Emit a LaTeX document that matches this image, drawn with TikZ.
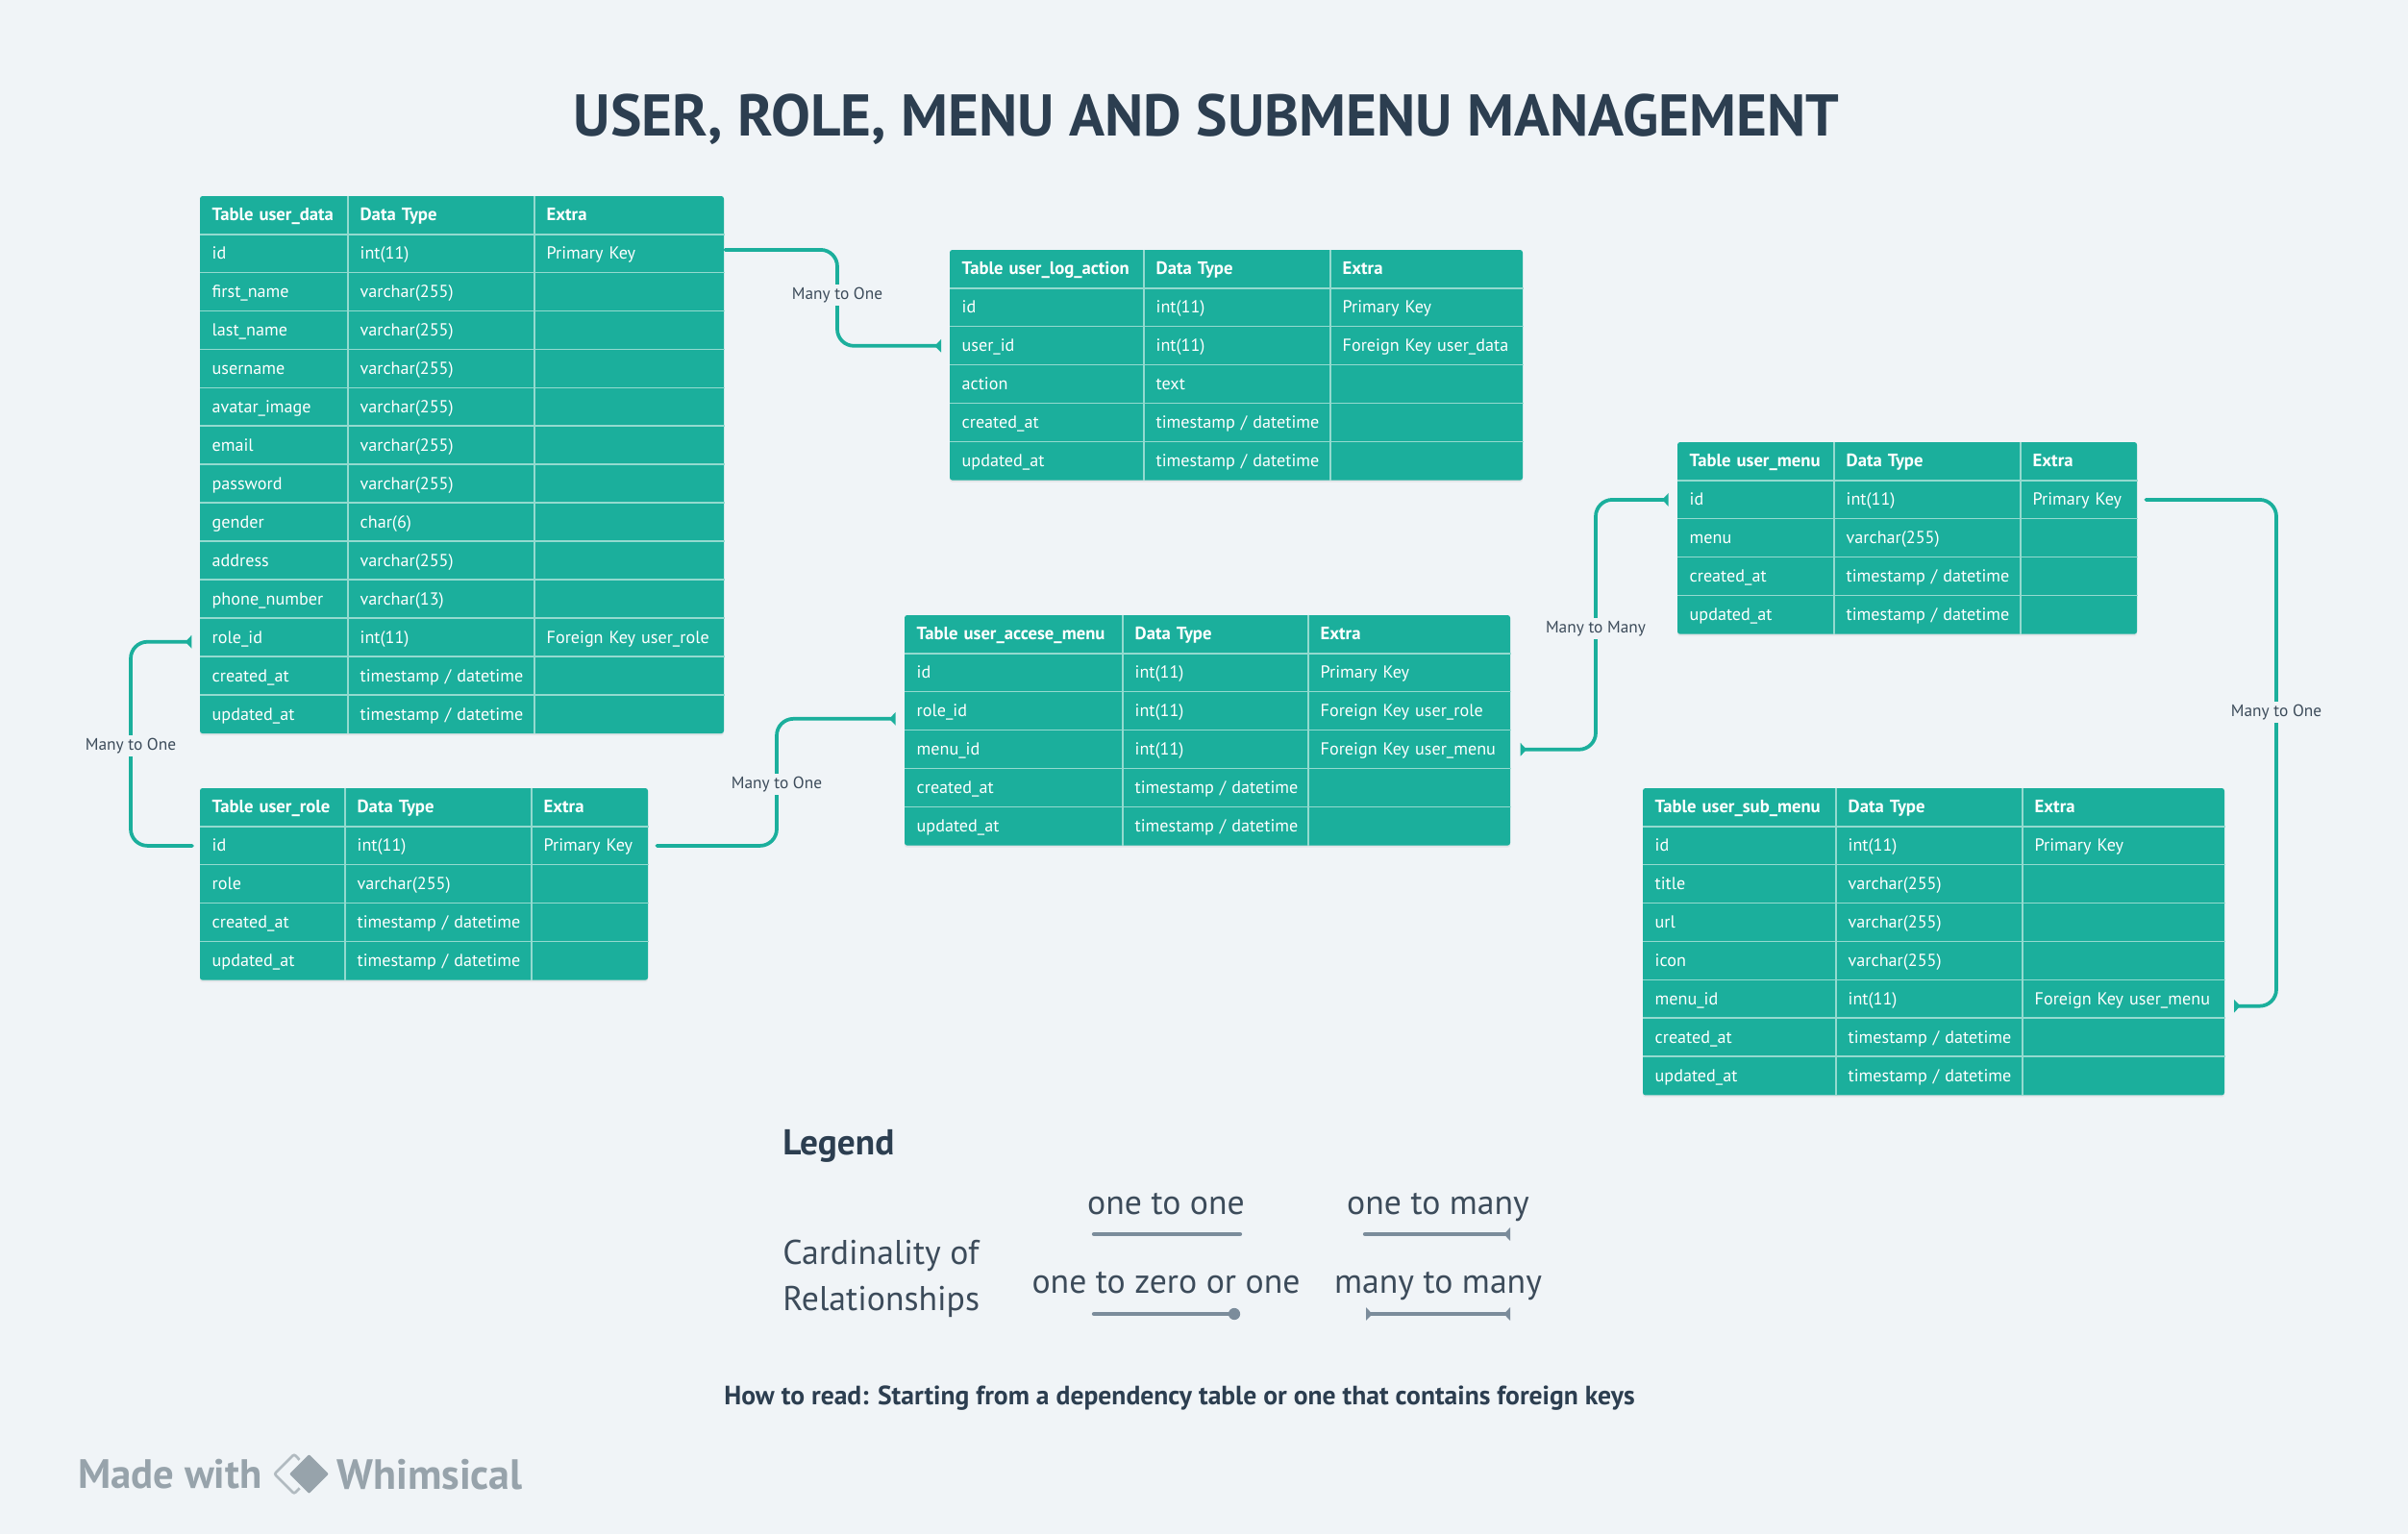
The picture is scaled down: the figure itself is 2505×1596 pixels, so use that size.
\documentclass[tikz,border=0pt]{standalone}
\usepackage{fontspec}
\setmainfont{PT Sans}
\usetikzlibrary{arrows.meta,shadows}
\definecolor{pagebg}{HTML}{F0F4F7}
\definecolor{tealcell}{HTML}{1BAF9C}
\definecolor{tealgrid}{HTML}{93DACF}
\definecolor{tealline}{HTML}{1BAF9C}
\definecolor{inkdark}{HTML}{2C3E50}
\definecolor{inklabel}{HTML}{3C4B5A}
\definecolor{legendline}{HTML}{7B8C9B}
\definecolor{brandgrey}{HTML}{97A3AB}
\newcommand{\tsdate}{timestamp / datetime}
\newcommand{\vchar}{varchar(255)}
% name, four column edges, top, number of rows, rows
\newcommand{\dbtable}[8]{
  \path [tablebody] (#2,#6) rectangle (#5,{#6+#7*39.93});
  \pgfmathsetmacro\cwa{(#3-#2)*.75-18}
  \pgfmathsetmacro\cwb{(#4-#3)*.75-18}
  \pgfmathsetmacro\cwc{(#5-#4)*.75-18}
  \foreach \fa/\fb/\fc [count=\rw from 0] in {#8} {
    \node (#1-\rw-1) [cell,text width=\cwa pt,anchor=west] at (#2,{#6+(\rw+.5)*39.93}) {\ifnum\rw=0\headfont\fi\mbox{\fa}};
    \node (#1-\rw-2) [cell,text width=\cwb pt,anchor=west] at (#3,{#6+(\rw+.5)*39.93}) {\ifnum\rw=0\headfont\fi\mbox{\fb}};
    \node (#1-\rw-3) [cell,text width=\cwc pt,anchor=west] at (#4,{#6+(\rw+.5)*39.93}) {\ifnum\rw=0\headfont\fi\mbox{\fc}};
    \draw [gridline] (#1-\rw-2.north west) -- (#1-\rw-2.south west);
    \draw [gridline] (#1-\rw-3.north west) -- (#1-\rw-3.south west);
    \ifnum\rw>0 \draw [gridline] (#1-\rw-1.north west) -- (#1-\rw-3.north east); \fi
  }
}
\newcommand{\headfont}{\fontsize{14}{16}\selectfont\bfseries}
\begin{document}
\begin{tikzpicture} [
  x=.75pt,y=-.75pt,
  crow/.tip={Triangle[reversed,length=5pt,width=10pt]},
  tablebody/.style= {fill=tealcell,rounded corners=2pt,drop shadow={shadow xshift=0pt,shadow yshift=-1.5pt,opacity=.12}},
  cell/.style= {inner xsep=9.3pt,inner ysep=0pt,minimum height=29.95pt,text height=10pt,text depth=1pt,align=left,text=white,font=\fontsize{13.6}{16}\selectfont},
  gridline/.style= {draw=tealgrid,line width=1.3pt},
  link/.style= {draw=tealline,line width=2.8pt,rounded corners=13pt,line cap=round},
  linklabel/.style= {fill=pagebg,inner xsep=0pt,inner ysep=2.5pt,text=inklabel,font=\fontsize{13}{15}\selectfont},
  legendtext/.style= {text=inklabel,font=\fontsize{26.8}{32}\selectfont},
  legendkey/.style= {draw=legendline,line width=3.2pt,line cap=round},
  brandtext/.style= {text=brandgrey,font=\fontsize{32}{38}\selectfont\bfseries},
]
\fill [pagebg] (0,0) rectangle (2505,1596);
\useasboundingbox (0,0) rectangle (2505,1596);

\node (title) [text=inkdark,font=\fontsize{45.9}{54}\selectfont\bfseries] at (1255,124) {USER, ROLE, MENU AND SUBMENU MANAGEMENT};

\dbtable{data}{208}{362}{556}{753}{204}{14}{
  Table user\_data/Data Type/Extra,
  id/int(11)/Primary Key,
  first\_name/\vchar/{},
  last\_name/\vchar/{},
  username/\vchar/{},
  avatar\_image/\vchar/{},
  email/\vchar/{},
  password/\vchar/{},
  gender/char(6)/{},
  address/\vchar/{},
  phone\_number/varchar(13)/{},
  role\_id/int(11)/Foreign Key user\_role,
  created\_at/\tsdate/{},
  updated\_at/\tsdate/{}}
\dbtable{log}{988}{1190}{1384}{1584}{260}{6}{
  Table user\_log\_action/Data Type/Extra,
  id/int(11)/Primary Key,
  user\_id/int(11)/Foreign Key user\_data,
  action/text/{},
  created\_at/\tsdate/{},
  updated\_at/\tsdate/{}}
\dbtable{menu}{1745}{1908}{2102}{2223}{460}{5}{
  Table user\_menu/Data Type/Extra,
  id/int(11)/Primary Key,
  menu/\vchar/{},
  created\_at/\tsdate/{},
  updated\_at/\tsdate/{}}
\dbtable{acc}{941}{1168}{1361}{1571}{640}{6}{
  Table user\_accese\_menu/Data Type/Extra,
  id/int(11)/Primary Key,
  role\_id/int(11)/Foreign Key user\_role,
  menu\_id/int(11)/Foreign Key user\_menu,
  created\_at/\tsdate/{},
  updated\_at/\tsdate/{}}
\dbtable{role}{208}{359}{553}{674}{820}{5}{
  Table user\_role/Data Type/Extra,
  id/int(11)/Primary Key,
  role/\vchar/{},
  created\_at/\tsdate/{},
  updated\_at/\tsdate/{}}
\dbtable{sub}{1709}{1910}{2104}{2314}{820}{8}{
  Table user\_sub\_menu/Data Type/Extra,
  id/int(11)/Primary Key,
  title/\vchar/{},
  url/\vchar/{},
  icon/\vchar/{},
  menu\_id/int(11)/Foreign Key user\_menu,
  created\_at/\tsdate/{},
  updated\_at/\tsdate/{}}

% connectors run through the middle of their labels
\coordinate (mid log) at (871,307);
\coordinate (mid role) at (136,776);
\coordinate (mid acc) at (808,816);
\coordinate (mid menu) at (1660,654);
\coordinate (mid sub) at (2368,741);
\draw [link,-{crow}] ([yshift=3pt]data-1-3.east) -| (mid log) |- ([xshift=-6.75pt]log-2-1.west);
\draw [link,-{crow}] ([xshift=-6pt]role-1-1.west) -| (mid role) |- ([xshift=-6.5pt,yshift=-3.4pt]data-11-1.west);
\draw [link,-{crow}] ([xshift=6pt]role-1-3.east) -| (mid acc) |- ([xshift=-7pt,yshift=-6pt]acc-2-1.west);
\draw [link,{crow}-{crow}] ([xshift=7pt]acc-3-3.east) -| (mid menu) |- ([xshift=-7pt]menu-1-1.west);
\draw [link,-{crow}] ([xshift=6pt]menu-1-3.east) -| (mid sub) |- ([xshift=6.5pt,yshift=-5.3pt]sub-5-3.east);
\node (many log) [linklabel] at (mid log) {Many to One};
\node (many role) [linklabel] at (mid role) {Many to One};
\node (many acc) [linklabel] at (mid acc) {Many to One};
\node (many menu) [linklabel] at (mid menu) {Many to Many};
\node (many sub) [linklabel] at (mid sub) {Many to One};

% legend
\node (legend) [anchor=west,inner sep=0pt,text=inkdark,font=\fontsize{28}{33}\selectfont\bfseries] at (814,1192) {Legend};
\node (card a) [legendtext,anchor=west,inner sep=0pt] at (814,1306) {Cardinality of};
\node (card b) [legendtext,anchor=west,inner sep=0pt] at (814,1354) {Relationships};
\node (one one) [legendtext,text height=16pt,text depth=0pt] at (1213,1253) {one to one};
\node (one many) [legendtext,text height=16pt,text depth=0pt] at (1496,1253) {one to many};
\node (one zero) [legendtext,text height=16pt,text depth=0pt] at (1213,1335) {one to zero or one};
\node (many many) [legendtext,text height=16pt,text depth=0pt] at (1496,1335) {many to many};
\coordinate (oo a) at (1138,1284);
\coordinate (oo b) at (1290,1284);
\coordinate (om a) at (1420,1284);
\coordinate (om b) at (1571,1284);
\coordinate (oz a) at (1138,1367);
\coordinate (oz b) at (1284,1367);
\coordinate (mm a) at (1421,1367);
\coordinate (mm b) at (1571,1367);
\draw [legendkey] (oo a) -- (oo b);
\draw [legendkey,-{crow}] (om a) -- (om b);
\draw [legendkey] (oz a) -- (oz b);
\fill [legendline] (oz b) circle (4.6pt);
\draw [legendkey,{crow}-{crow}] (mm a) -- (mm b);

\node (howto) [text=inkdark,font=\fontsize{20.7}{25}\selectfont\bfseries] at (1227,1455) {How to read: Starting from a dependency table or one that contains foreign keys};

% badge
\node (made) [brandtext,anchor=west,inner sep=0pt] at (81,1534) {Made with};
\draw [brandgrey!75,line width=2pt,rounded corners=1.5pt] (306,1513) -- (285.5,1533.5) -- (306,1554) -- (326,1533.5) -- cycle;
\draw [fill=brandgrey,draw=pagebg,line width=2pt,rounded corners=2pt] (321.5,1511) -- (299,1533.5) -- (321.5,1556) -- (344,1533.5) -- cycle;
\node (whimsical) [brandtext,anchor=west,inner sep=0pt,font=\fontsize{33}{38}\selectfont\bfseries] at (350,1534) {Whimsical};
\end{tikzpicture}
\end{document}
